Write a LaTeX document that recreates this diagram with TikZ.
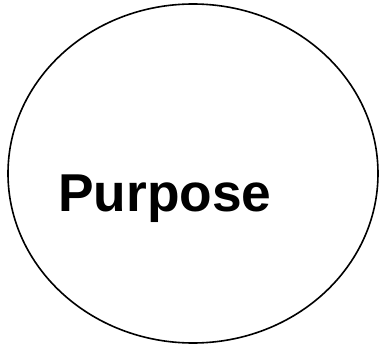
\documentclass[tikz,border=0pt]{standalone}
\usepackage{fontspec}
\setmainfont{Liberation Sans}
\begin{document}
\begin{tikzpicture}[x=1bp,y=1bp,
  bubble/.style={draw=black,line width=1.6bp},
  label/.style={font=\fontsize{53.5}{64}\selectfont\bfseries,inner sep=0pt,anchor=base west}]
\useasboundingbox (0,0) rectangle (380,346);
\draw[bubble] (193,172.5) ellipse [x radius=185, y radius=169.5];
\node[label] (purpose) at (58,135) {Purpose};
\end{tikzpicture}
\end{document}
